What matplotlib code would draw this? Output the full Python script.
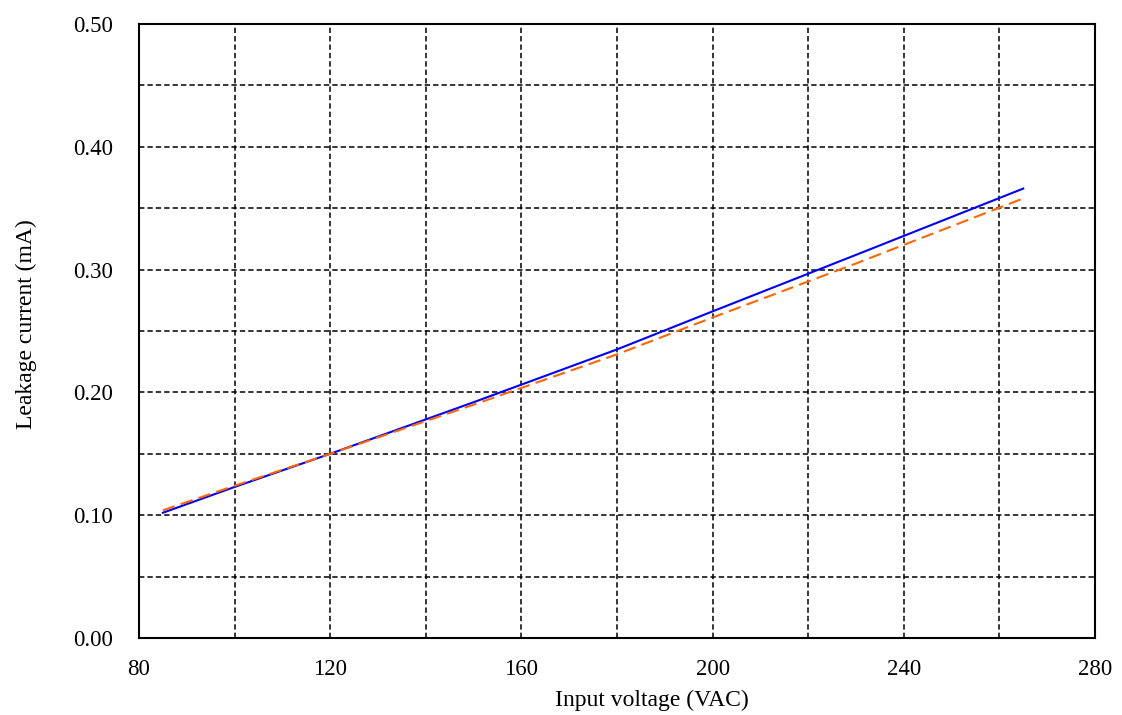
import numpy as np
import matplotlib
matplotlib.use('Agg')
import matplotlib.pyplot as plt
from matplotlib.ticker import MultipleLocator

plt.rcParams['font.family'] = ['Liberation Serif', 'DejaVu Serif']

voltage = [85, 100, 120, 150, 180, 200, 230, 265]
leak_a = [0.102, 0.123, 0.150, 0.192, 0.235, 0.266, 0.312, 0.366]
leak_b = [0.104, 0.124, 0.150, 0.190, 0.231, 0.261, 0.305, 0.358]

fig = plt.figure(figsize=(11.22, 7.15), dpi=100)
ax = fig.add_axes([0.1239, 0.1077, 0.852, 0.8587])

ax.plot(voltage, leak_a, color='#0000ff', linewidth=1.5, zorder=4)
ax.plot(voltage, leak_b, color='#ff6600', linewidth=1.5, dashes=(6, 3), zorder=5)

ax.set_xlim(80, 280)
ax.set_ylim(0, 0.5)
ax.xaxis.set_major_locator(MultipleLocator(40))
ax.xaxis.set_minor_locator(MultipleLocator(20))
ax.yaxis.set_major_locator(MultipleLocator(0.1))
ax.yaxis.set_minor_locator(MultipleLocator(0.05))
ax.yaxis.set_major_formatter(matplotlib.ticker.FormatStrFormatter('%.2f'))

ax.grid(which='both', color='black', linestyle=(0, (3.5, 2)), linewidth=1.1)
ax.set_axisbelow(True)
ax.tick_params(which='both', length=0, labelsize=16.5)
ax.tick_params(axis='y', pad=19)
ax.tick_params(axis='x', pad=15)
for s in ax.spines.values():
    s.set_linewidth(1.5)
    s.set_color('black')

ax.set_xlabel('Input voltage (VAC)', fontsize=17, labelpad=6)
ax.set_ylabel('Leakage current (mA)', fontsize=17, labelpad=26)
ax.xaxis.set_label_coords(0.537, -0.085)
ax.yaxis.label.set_y(0.511)

fig.savefig('out.png', dpi=100)
